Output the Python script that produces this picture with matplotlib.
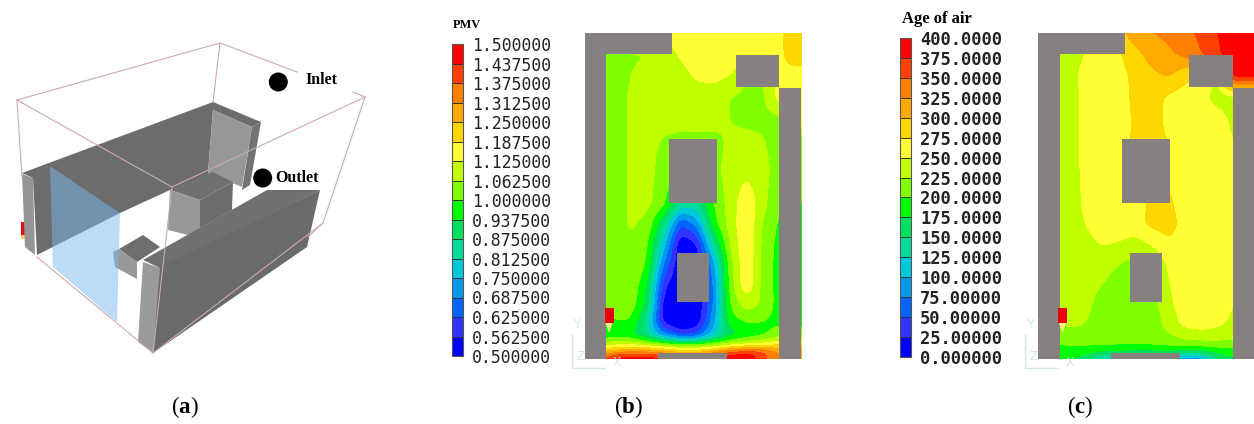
import numpy as np
import matplotlib
matplotlib.use("Agg")
import matplotlib.pyplot as plt
from matplotlib.colors import ListedColormap, BoundaryNorm
from matplotlib.cm import ScalarMappable
from matplotlib.patches import Polygon, Rectangle, Circle

plt.rcParams['font.family'] = 'Liberation Serif'
plt.rcParams['mathtext.fontset'] = 'custom'
plt.rcParams['mathtext.rm'] = 'Liberation Serif'
plt.rcParams['mathtext.bf'] = 'Liberation Serif:bold'

# colour bands shared by both contour plots, low to high
band_colors = ["#0000ff", "#3333ff", "#0066ff", "#0099ee", "#00c8dd", "#00dd99", "#00e060", "#00ff00",
               "#80ff00", "#bfff00", "#ffff33", "#ffd700", "#ffaa00", "#ff8000", "#ff4000", "#ff0000"]

pmv_ticks = ["0.500000", "0.562500", "0.625000", "0.687500", "0.750000", "0.812500", "0.875000", "0.937500", "1.000000",
             "1.062500", "1.125000", "1.187500", "1.250000", "1.312500", "1.375000", "1.437500", "1.500000"]
age_ticks = ["0.000000", "25.00000", "50.00000", "75.00000", "100.0000", "125.0000", "150.0000", "175.0000", "200.0000",
             "225.0000", "250.0000", "275.0000", "300.0000", "325.0000", "350.0000", "375.0000", "400.0000"]

# PMV field (px from the panel's top left corner, x to the right, y down)
pmv_x = [21.7, 32.3, 45.7, 62.3, 79, 95.7, 112.3, 129, 145.7, 162.3, 179, 194.3, 205.7, 216.7]
pmv_y = [0, 22.3, 40.7, 64, 87.3, 110.7, 137.3, 170.7, 190.7, 210.7, 230.7, 250.7, 270.7, 287.3, 302.3, 312.3, 319, 326.3]
pmv = [
    [1.15, 1.15, 1.15, 1.15, 1.15, 1.15, 1.15, 1.15, 1.15, 1.15, 1.15, 1.16, 1.22, 1.22],
    [1.00, 1.03, 1.05, 1.06, 1.09, 1.13, 1.17, 1.17, 1.17, 1.17, 1.16, 1.16, 1.22, 1.22],
    [1.00, 1.03, 1.06, 1.09, 1.09, 1.10, 1.14, 1.15, 1.13, 1.06, 1.06, 1.15, 1.16, 1.16],
    [1.02, 1.04, 1.07, 1.09, 1.09, 1.09, 1.09, 1.09, 1.06, 1.05, 1.05, 1.15, 1.16, 1.16],
    [1.02, 1.04, 1.07, 1.09, 1.09, 1.09, 1.09, 1.09, 1.06, 1.05, 1.05, 1.03, 1.16, 1.16],
    [1.02, 1.04, 1.07, 1.09, 1.05, 1.03, 1.03, 1.03, 1.08, 1.08, 1.07, 1.02, 1.02, 1.02],
    [1.02, 1.04, 1.07, 1.09, 1.03, 1.03, 1.03, 1.04, 1.09, 1.11, 1.09, 1.02, 1.02, 1.02],
    [1.02, 1.04, 1.07, 1.08, 1.02, 0.85, 0.85, 1.00, 1.09, 1.17, 1.08, 1.00, 1.00, 1.00],
    [1.02, 1.04, 1.07, 1.05, 0.88, 0.62, 0.70, 0.97, 1.09, 1.18, 1.05, 0.99, 0.99, 0.99],
    [1.02, 1.04, 1.06, 1.02, 0.78, 0.50, 0.55, 0.85, 1.07, 1.18, 1.04, 0.98, 0.98, 0.98],
    [1.02, 1.04, 1.06, 1.00, 0.68, 0.50, 0.50, 0.72, 1.04, 1.18, 1.03, 0.98, 0.98, 0.98],
    [1.02, 1.04, 1.05, 0.95, 0.58, 0.50, 0.50, 0.68, 1.03, 1.18, 1.03, 0.98, 0.98, 0.98],
    [1.02, 1.04, 1.04, 0.92, 0.52, 0.50, 0.50, 0.68, 1.01, 1.10, 1.05, 0.97, 0.97, 0.97],
    [0.98, 1.00, 1.00, 0.85, 0.52, 0.48, 0.50, 0.72, 0.97, 1.01, 1.00, 0.98, 0.98, 0.98],
    [0.95, 0.95, 0.95, 0.85, 0.70, 0.60, 0.62, 0.78, 0.90, 0.95, 0.98, 1.03, 1.03, 1.03],
    [1.10, 1.12, 1.12, 1.10, 1.06, 1.03, 1.03, 1.06, 1.10, 1.13, 1.15, 1.20, 1.20, 1.20],
    [1.28, 1.30, 1.33, 1.33, 1.30, 1.25, 1.25, 1.30, 1.40, 1.45, 1.42, 1.32, 1.32, 1.32],
    [1.40, 1.50, 1.50, 1.50, 1.48, 1.40, 1.40, 1.48, 1.50, 1.50, 1.38, 1.30, 1.30, 1.30],
]

# age of air field
age_x = [21.3, 34, 47.3, 64, 80.7, 97.3, 114, 130.7, 147.3, 164, 180.7, 194, 205.7, 216]
age_y = [0, 22.3, 40.7, 64, 87.3, 110.7, 137.3, 170.7, 190.7, 210.7, 230.7, 250.7, 270.7, 290.7, 307.3, 317.3, 325.7]
age = [
    [235, 237, 250, 262, 290, 315, 325, 330, 345, 355, 375, 395, 395, 395],
    [235, 237, 250, 262, 270, 290, 310, 320, 330, 350, 370, 395, 395, 395],
    [235, 238, 262, 265, 268, 280, 295, 305, 285, 270, 245, 395, 395, 395],
    [235, 238, 260, 265, 265, 280, 285, 270, 262, 255, 240, 238, 238, 238],
    [235, 238, 260, 265, 265, 278, 285, 268, 262, 262, 260, 245, 245, 245],
    [235, 238, 260, 265, 268, 278, 285, 275, 262, 262, 262, 250, 250, 250],
    [235, 238, 258, 265, 265, 268, 275, 270, 262, 262, 262, 250, 250, 250],
    [235, 238, 255, 265, 265, 268, 278, 280, 262, 262, 262, 250, 250, 250],
    [235, 238, 250, 265, 265, 265, 282, 285, 265, 262, 262, 250, 250, 250],
    [235, 238, 240, 252, 248, 240, 252, 272, 262, 262, 262, 250, 250, 250],
    [232, 236, 238, 238, 225, 215, 222, 255, 262, 262, 262, 250, 250, 250],
    [232, 236, 236, 225, 212, 212, 215, 250, 262, 262, 262, 250, 250, 250],
    [232, 236, 232, 215, 210, 210, 212, 245, 262, 262, 262, 250, 250, 250],
    [225, 230, 225, 212, 208, 208, 208, 235, 258, 262, 255, 245, 245, 245],
    [208, 210, 210, 210, 210, 210, 212, 215, 225, 228, 228, 225, 225, 225],
    [190, 190, 190, 188, 185, 182, 182, 185, 180, 180, 188, 190, 190, 190],
    [178, 175, 160, 110, 100, 100, 100, 100, 70, 80, 150, 170, 170, 170],
]

# grey solids in the two plan views: x, y, width, height from the panel corner
plan_solids = [
    (0, 0, 87, 21), (0, 0, 21.5, 326), (194.5, 55, 21.5, 271), (151, 22, 43.5, 32),
    (84, 106, 48, 64), (92, 220, 32, 49), (73, 320, 69, 6),
]

# panel a, block model outline in px
model_wall = [(22, 173), (213, 102), (261, 122), (252, 127), (213, 110), (208, 173), (233, 182), (170, 190), (120, 213), (37, 255), (33, 178)]
model_wall_end = [(22, 174), (33, 178), (35, 255), (25, 247)]
model_return = [(213, 110), (252, 127), (242, 187), (208, 173)]
model_return_end = [(252, 127), (261, 122), (250, 185), (242, 190)]
model_box_top = [(170, 190), (213, 172), (233, 182), (200, 200)]
model_box_front = [(170, 190), (200, 200), (200, 238), (168, 230)]
model_box_side = [(200, 200), (233, 182), (232, 210), (200, 228)]
model_desk_top = [(119, 249), (143, 235), (160, 247), (137, 262)]
model_desk_front = [(119, 249), (137, 262), (137, 279), (115, 267), (113, 252)]
model_front_top = [(143, 260), (267, 190), (320, 190), (160, 268)]
model_front_face = [(157, 268), (320, 190), (307, 247), (153, 353)]
model_front_end = [(143, 262), (160, 268), (153, 353), (138, 342)]
model_window = [(50, 166), (120, 213), (117, 322), (53, 267)]
wire_lines = [
    [(17, 100), (220, 43), (297, 72)], [(220, 43), (213, 102)], [(17, 100), (172, 187), (365, 97), (353, 92)],
    [(365, 97), (323, 223), (153, 353)], [(17, 100), (22, 177)], [(172, 187), (153, 353)], [(37, 257), (153, 353)],
    [(323, 223), (308, 237)],
]


def soften(xs, ys, values, sigma=3.5):
    # the source render is a smooth field: go to a 1 px mesh and take the grid corners off
    fine_x = np.arange(xs[0], xs[-1] + 0.5, 1.0)
    fine_y = np.arange(ys[0], ys[-1] + 0.5, 1.0)
    grid = np.array(values, dtype=float)
    grid = np.array([np.interp(fine_x, xs, row) for row in grid])
    grid = np.array([np.interp(fine_y, ys, col) for col in grid.T]).T
    half = int(3 * sigma)
    kernel = np.exp(-0.5 * (np.arange(-half, half + 1) / sigma) ** 2)
    kernel /= kernel.sum()
    pad = np.pad(grid, half, mode='edge')
    pad = np.apply_along_axis(lambda v: np.convolve(v, kernel, mode='same'), 0, pad)
    pad = np.apply_along_axis(lambda v: np.convolve(v, kernel, mode='same'), 1, pad)
    return fine_x, fine_y, pad[half:-half, half:-half]


fig = plt.figure(figsize=(12.54, 4.24), dpi=100)
ax = fig.add_axes([0, 0, 1, 1])
ax.set_xlim(0, 1254)
ax.set_ylim(424, 0)
ax.axis('off')

# panel a
for pts, col in [(model_wall, "#6c6c6c"), (model_wall_end, "#959595"), (model_return, "#979797"), (model_return_end, "#727272"),
                 (model_box_top, "#707070"), (model_box_front, "#989898"), (model_box_side, "#6c6c6c"),
                 (model_desk_top, "#6e6e6e"), (model_desk_front, "#989898")]:
    ax.add_patch(Polygon(pts, closed=True, fc=col, ec='none', zorder=2))
ax.add_patch(Polygon(model_window, closed=True, fc="#7ab8ee", ec='none', alpha=0.5, zorder=3))
for pts, col in [(model_front_top, "#707070"), (model_front_face, "#6a6a6a"), (model_front_end, "#9a9a9a")]:
    ax.add_patch(Polygon(pts, closed=True, fc=col, ec='none', zorder=4))
for line in wire_lines:
    xs, ys = zip(*line)
    ax.plot(xs, ys, color="#cfa9a9", lw=0.8, zorder=5)
ax.add_patch(Rectangle((21, 222), 5, 13, fc="#dd1111", ec='none', zorder=1))
ax.add_patch(Rectangle((21, 235), 5, 4, fc="#ffd060", ec='none', zorder=1))
ax.add_patch(Circle((278.3, 82), 9.5, fc='black', ec='none', zorder=6))
ax.add_patch(Circle((262.7, 178), 9.5, fc='black', ec='none', zorder=6))
ax.text(305, 80, "Inlet", fontsize=11.4, fontweight='bold', va='center', ha='left')
ax.text(275, 178.5, "Outlet", fontsize=11.4, fontweight='bold', va='center', ha='left')


def draw_plan(x0, y0, xs, ys, values, vmin, vmax):
    levels = np.linspace(vmin, vmax, 17)
    cmap = ListedColormap(band_colors)
    fx, fy, field = soften(xs, ys, values)
    ax.contourf(x0 + fx, y0 + fy, np.clip(field, vmin, vmax), levels=levels, cmap=cmap, zorder=2)
    for sx, sy, sw, sh in plan_solids:
        ax.add_patch(Rectangle((x0 + sx, y0 + sy), sw, sh, fc="#868080", ec='none', zorder=3))
    # supply grille and the little flame below it
    ax.add_patch(Rectangle((x0 + 20, y0 + 275), 9, 15, fc="#e8000b", ec='none', zorder=4))
    ax.add_patch(Polygon([(x0 + 21, y0 + 290), (x0 + 28, y0 + 290), (x0 + 24.5, y0 + 300)], closed=True, fc="#ffee88", ec='none', zorder=4))
    # faint axis triad
    ax.plot([x0 - 13, x0 - 13, x0 + 20], [y0 + 302, y0 + 335, y0 + 335], color="#d5e5e8", lw=1, zorder=1)
    ax.text(x0 - 7, y0 + 292, "Y", color="#d5e5e8", family='DejaVu Sans', fontsize=9, ha='center', va='center')
    ax.text(x0 - 4, y0 + 324, "Z", color="#d5e5e8", family='DejaVu Sans', fontsize=9, ha='center', va='center')
    ax.text(x0 + 32, y0 + 329, "X", color="#d5e5e8", family='DejaVu Sans', fontsize=9, ha='center', va='center')


def draw_scale(left, top, width, height, vmin, vmax, labels, fontsize, weight):
    levels = np.linspace(vmin, vmax, 17)
    cax = fig.add_axes([left / 1254, 1 - (top + height) / 424, width / 1254, height / 424])
    sm = ScalarMappable(norm=BoundaryNorm(levels, 16), cmap=ListedColormap(band_colors))
    cb = fig.colorbar(sm, cax=cax, ticks=levels, spacing='uniform', drawedges=True)
    cb.dividers.set_color("#333333")
    cb.dividers.set_linewidth(0.7)
    cb.outline.set_edgecolor("#555555")
    cb.outline.set_linewidth(0.8)
    cb.ax.set_yticklabels(labels, family='DejaVu Sans Mono', fontsize=fontsize, fontweight=weight, color="#222222")
    cb.ax.tick_params(length=0, pad=6.5)


draw_plan(584.5, 33, pmv_x, pmv_y, pmv, 0.5, 1.5)
draw_plan(1038, 33, age_x, age_y, age, 0, 400)
draw_scale(452, 44, 11, 312, 0.5, 1.5, pmv_ticks, 11.9, 'normal')
draw_scale(900, 38, 11, 319, 0, 400, age_ticks, 12.3, 'bold')

ax.text(467, 25, "PMV", fontsize=8.9, fontweight='bold', ha='center', va='center')
ax.text(937, 19, "Age of air", fontsize=12, fontweight='bold', ha='center', va='center')

for label, cx in [("a", 185), ("b", 628), ("c", 1080)]:
    ax.text(cx, 407, r"($\mathbf{%s}$)" % label, fontsize=16.5, ha='center', va='center')

fig.savefig("out.png", dpi=100)
